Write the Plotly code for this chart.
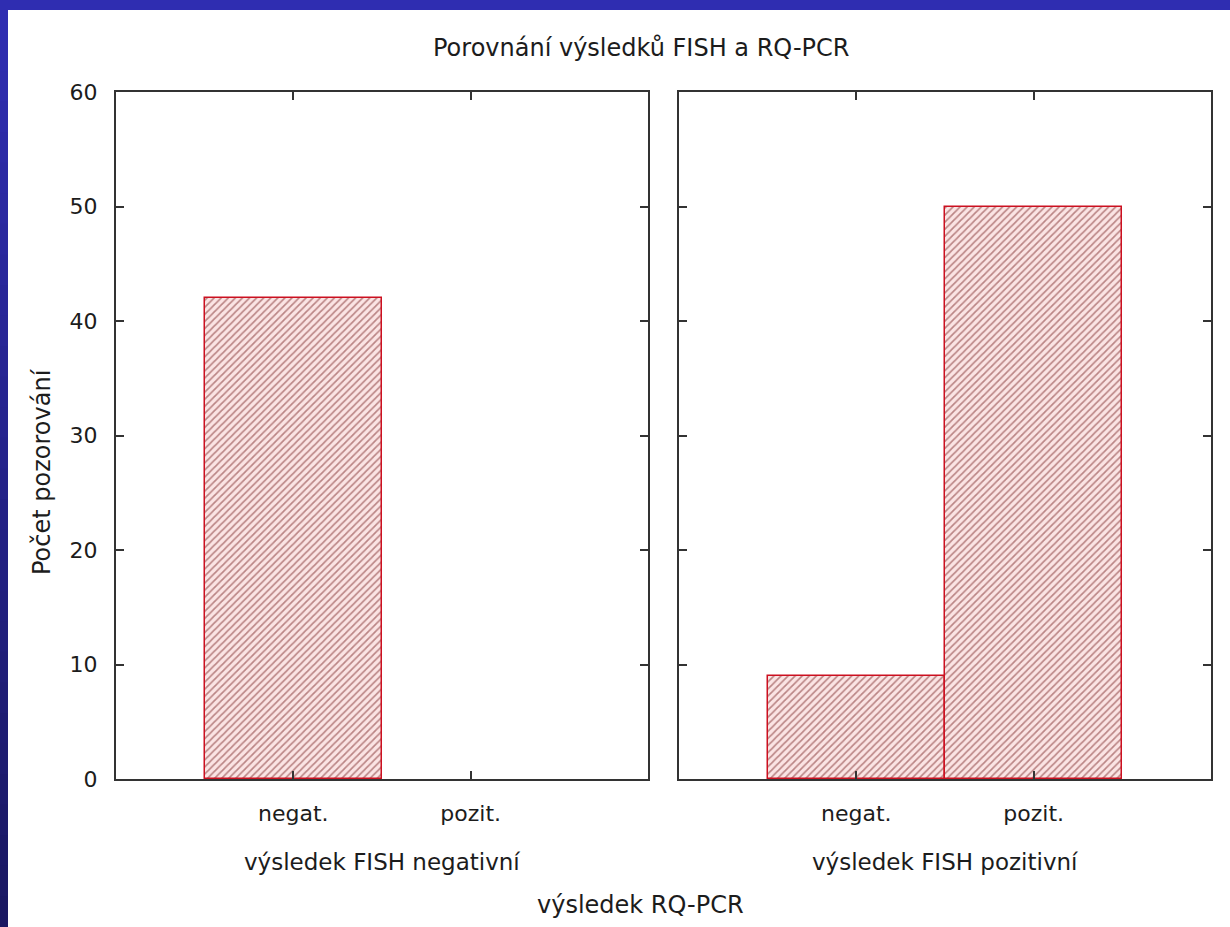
import plotly.graph_objects as go

# ---- data ----
categories = ["negat.", "pozit."]
fish_negative = [42, 0]
fish_positive = [9, 50]
panel_labels = ["výsledek FISH negativní", "výsledek FISH pozitivní"]
y_ticks = [0, 10, 20, 30, 40, 50, 60]
title_text = "Porovnání výsledků FISH a RQ-PCR"
x_title = "výsledek RQ-PCR"
y_title = "Počet pozorování"

W, H = 1230, 927
L, R, T, B = 116, 1211, 92, 779
PW, PH = R - L, B - T


def px(x):
    return (x - L) / PW


def py(y):
    return (B - y) / PH


FONT = "DejaVu Sans"
TXT = "#1c1c1c"
AX = "#333333"


def bar_style(values):
    return dict(
        width=1.0,
        marker=dict(
            color="#fbe4e4",
            line=dict(color="#cc1020", width=[1.5 if v > 0 else 0 for v in values]),
            pattern=dict(shape="/", fgcolor="#7a2626", size=5, solidity=0.34),
        ),
        showlegend=False,
        hoverinfo="x+y",
    )


fig = go.Figure()
fig.add_trace(go.Bar(x=categories, y=fish_negative, xaxis="x", yaxis="y",
                     **bar_style(fish_negative)))
fig.add_trace(go.Bar(x=categories, y=fish_positive, xaxis="x2", yaxis="y2",
                     **bar_style(fish_positive)))

d1 = [0, px(648)]
d2 = [px(679), 1]

xcommon = dict(
    type="category", range=[-1, 2], showline=True, linecolor=AX, linewidth=2,
    mirror="ticks", ticks="inside", ticklen=8, tickwidth=1.5, tickcolor=AX,
    showgrid=False, zeroline=False, ticklabelstandoff=14, layer="above traces",
    tickfont=dict(family=FONT, size=22, color=TXT),
)
ycommon = dict(
    range=[0, 60], tickvals=y_ticks, showline=True, linecolor=AX, linewidth=2,
    mirror="ticks", ticks="inside", ticklen=8, tickwidth=1.5, tickcolor=AX,
    showgrid=False, zeroline=False, layer="above traces",
    tickfont=dict(family=FONT, size=22, color=TXT),
)

fig.update_layout(
    width=W, height=H,
    margin=dict(l=L, r=W - R, t=T, b=H - B, pad=0),
    paper_bgcolor="white", plot_bgcolor="white",
    bargap=0,
    xaxis=dict(domain=d1, anchor="y", **xcommon),
    xaxis2=dict(domain=d2, anchor="y2", **xcommon),
    yaxis=dict(anchor="x", ticklabelstandoff=12, **ycommon),
    yaxis2=dict(anchor="x2", matches="y", showticklabels=False, **ycommon),
)

ann = []
ann.append(dict(text=title_text, x=px(641), y=py(48), xref="paper", yref="paper",
                showarrow=False, xanchor="center", yanchor="middle",
                font=dict(family=FONT, size=24, color=TXT)))
for lab, cx in zip(panel_labels, [(L + 648) / 2, (679 + R) / 2]):
    ann.append(dict(text=lab, x=px(cx), y=py(862), xref="paper", yref="paper",
                    showarrow=False, xanchor="center", yanchor="middle",
                    font=dict(family=FONT, size=23, color=TXT)))
ann.append(dict(text=x_title, x=px(640), y=py(905), xref="paper", yref="paper",
                showarrow=False, xanchor="center", yanchor="middle",
                font=dict(family=FONT, size=24, color=TXT)))
ann.append(dict(text=y_title, x=px(42), y=py(472), xref="paper", yref="paper",
                showarrow=False, xanchor="center", yanchor="middle", textangle=-90,
                font=dict(family=FONT, size=24, color=TXT)))
fig.update_layout(annotations=ann)

# blue frame: top bar and left strip with vertical gradient
shapes = []
shapes.append(dict(type="rect", xref="paper", yref="paper", x0=px(0), x1=px(W),
                   y0=py(0), y1=py(10), fillcolor="#2f2db1", line=dict(width=0),
                   layer="above"))
n = 30
c0 = (0x2f, 0x2d, 0xb1)
c1 = (0x1a, 0x18, 0x62)
for i in range(n):
    t = i / (n - 1)
    c = tuple(round(a + (b - a) * t) for a, b in zip(c0, c1))
    ya = 10 + (H - 10) * i / n
    yb = 10 + (H - 10) * (i + 1) / n + 1
    shapes.append(dict(type="rect", xref="paper", yref="paper", x0=px(0), x1=px(8),
                       y0=py(yb), y1=py(ya), fillcolor="rgb(%d,%d,%d)" % c,
                       line=dict(width=0), layer="above"))
fig.update_layout(shapes=shapes)

fig.write_html(
    "out.html",
    config={"displayModeBar": False},
    post_script="document.body.style.margin='0';document.body.style.overflow='hidden';",
)
